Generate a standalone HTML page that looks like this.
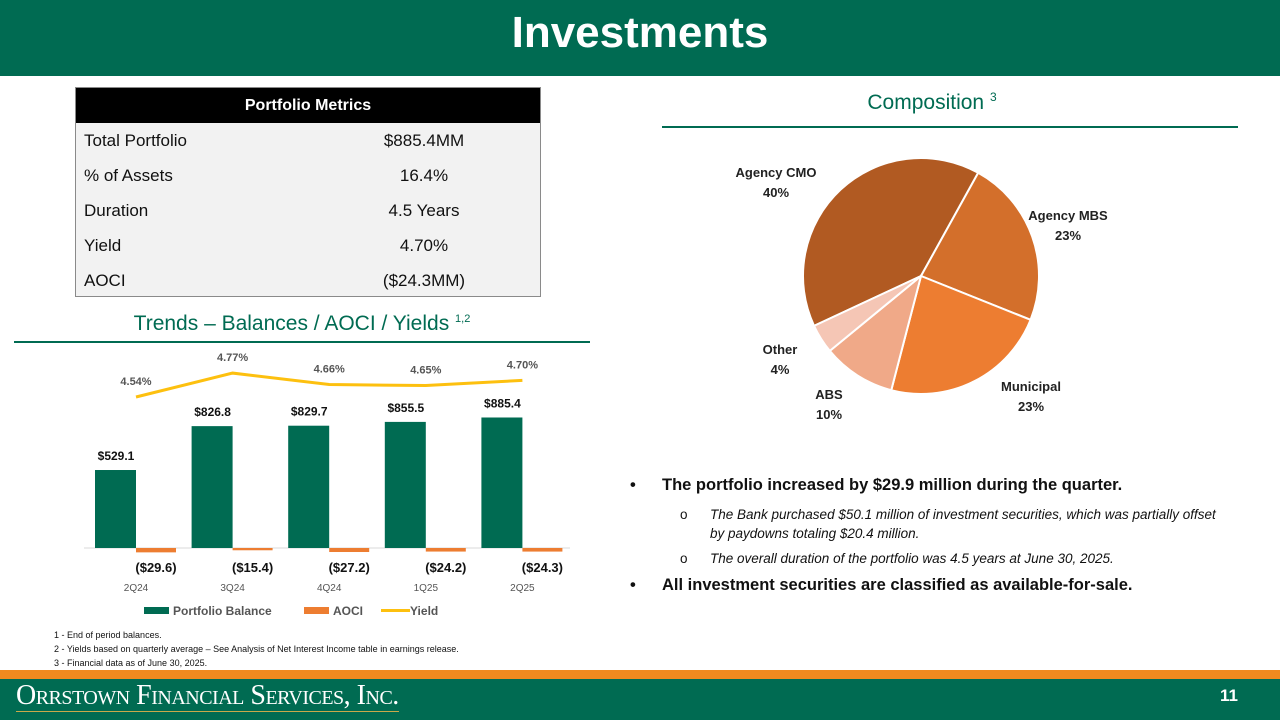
<!DOCTYPE html>
<html><head><meta charset="utf-8"><style>
body{margin:0;width:1280px;height:720px;position:relative;overflow:hidden;background:#fff;font-family:"Liberation Sans",sans-serif;}
.abs{position:absolute;}
table{border-collapse:collapse;}
</style></head><body>
<div class="abs" style="left:0;top:0;width:1280px;height:76px;background:#006b52;"></div>
<div class="abs" style="left:0;top:8px;width:1280px;text-align:center;color:#fff;font-weight:bold;font-size:44px;">Investments</div>

<div class="abs" style="left:75px;top:87px;width:466px;height:210px;background:#f2f2f2;border:1px solid #8a8a8a;box-sizing:border-box;">
<div style="height:35px;background:#000;color:#fff;font-weight:bold;font-size:16px;text-align:center;line-height:35px;">Portfolio Metrics</div>
<table style="width:100%;font-size:17px;color:#111;">
<tr style="height:35px"><td style="padding-left:8px">Total Portfolio</td><td style="text-align:center;width:50%">$885.4MM</td></tr>
<tr style="height:35px"><td style="padding-left:8px">% of Assets</td><td style="text-align:center">16.4%</td></tr>
<tr style="height:35px"><td style="padding-left:8px">Duration</td><td style="text-align:center">4.5 Years</td></tr>
<tr style="height:35px"><td style="padding-left:8px">Yield</td><td style="text-align:center">4.70%</td></tr>
<tr style="height:35px"><td style="padding-left:8px">AOCI</td><td style="text-align:center">($24.3MM)</td></tr>
</table></div>

<div class="abs" style="left:14px;top:312px;width:576px;text-align:center;color:#006b52;font-size:21px;">Trends – Balances / AOCI / Yields <sup style="font-size:11px">1,2</sup></div>
<div class="abs" style="left:14px;top:341px;width:576px;height:2px;background:#006b52;"></div>

<div class="abs" style="left:662px;top:90px;width:540px;text-align:center;color:#006b52;font-size:21px;">Composition <sup style="font-size:12px">3</sup></div>
<div class="abs" style="left:662px;top:126px;width:576px;height:2px;background:#006b52;"></div>

<svg class="abs" style="left:0;top:0" width="1280" height="720" id="chart"></svg>

<div class="abs" style="left:630px;top:476px;width:620px;color:#111;">
<div style="font-weight:bold;font-size:16.5px;"><span style="display:inline-block;width:32px">•</span>The portfolio increased by $29.9 million during the quarter.</div>
<div style="font-style:italic;font-size:13.5px;margin-top:10px;padding-left:80px;text-indent:-30px;line-height:19px;width:520px;"><span style="display:inline-block;width:30px;text-indent:0;font-style:normal">o</span>The Bank purchased $50.1 million of investment securities, which was partially offset by paydowns totaling $20.4 million.</div>
<div style="font-style:italic;font-size:13.5px;margin-top:8px;padding-left:50px;"><span style="display:inline-block;width:30px;font-style:normal">o</span>The overall duration of the portfolio was 4.5 years at June 30, 2025.</div>
<div style="font-weight:bold;font-size:16.5px;margin-top:10px;"><span style="display:inline-block;width:32px">•</span>All investment securities are classified as available-for-sale.</div>
</div>

<div class="abs" style="left:54px;top:628px;font-size:9px;color:#111;line-height:14px;">
<div>1 - End of period balances.</div>
<div>2 - Yields based on quarterly average – See Analysis of Net Interest Income table in earnings release.</div>
<div>3 - Financial data as of June 30, 2025.</div></div>

<div class="abs" style="left:0;top:670px;width:1280px;height:9px;background:#f08a1f;"></div>
<div class="abs" style="left:0;top:679px;width:1280px;height:41px;background:#006b52;"></div>
<div class="abs" style="left:16px;top:681px;color:#fff;font-family:'Liberation Serif',serif;font-size:28px;font-variant:small-caps;letter-spacing:-0.5px;border-bottom:1px solid #c9a94a;line-height:30px;">Orrstown Financial Services, Inc.</div>
<div class="abs" style="left:1220px;top:686px;color:#fff;font-weight:bold;font-size:17px;">11</div>

<script>
const categories=["2Q24","3Q24","4Q24","1Q25","2Q25"];
const balances=[529.1,826.8,829.7,855.5,885.4];
const aoci=[-29.6,-15.4,-27.2,-24.2,-24.3];
const yields=[4.54,4.77,4.66,4.65,4.70];
const balanceLabels=["$529.1","$826.8","$829.7","$855.5","$885.4"];
const aociLabels=["($29.6)","($15.4)","($27.2)","($24.2)","($24.3)"];
const yieldLabels=["4.54%","4.77%","4.66%","4.65%","4.70%"];
const pieLabels=["Agency CMO","Agency MBS","Municipal","ABS","Other"];
const pieValues=[40,23,23,10,4];

const NS="http://www.w3.org/2000/svg";
const svg=document.getElementById('chart');
function el(tag,attrs,txt){const e=document.createElementNS(NS,tag);for(const k in attrs)e.setAttribute(k,attrs[k]);if(txt!==undefined)e.textContent=txt;svg.appendChild(e);return e;}
const base=548;
const xc=i=>136+i*96.6;
const yb=v=>base-v*0.1474;
const yy=v=>397-(v-4.54)*104;
el('line',{x1:84,x2:570,y1:base,y2:base,stroke:'#d9d9d9','stroke-width':1});
categories.forEach((c,i)=>{
 const x=xc(i);
 let r=el('rect',{x:x-41,y:yb(balances[i]),width:41,height:base-yb(balances[i]),fill:'#006b52'});
 
 let a=el('rect',{x:x,y:base,width:40,height:yb(aoci[i])-base,fill:'#ed7d31'});
 
 let t=el('text',{x:x-20,y:yb(balances[i])-10,'text-anchor':'middle','font-size':12,'font-weight':'bold',fill:'#111'},balanceLabels[i]);
 
 t=el('text',{x:x+20,y:572,'text-anchor':'middle','font-size':13,'font-weight':'bold',fill:'#111'},aociLabels[i]);
 
 t=el('text',{x:x,y:591,'text-anchor':'middle','font-size':10,fill:'#555'},c);
 
 t=el('text',{x:x,y:yy(yields[i])-12,'text-anchor':'middle','font-size':11,'font-weight':'bold',fill:'#555'},yieldLabels[i]);
 
});
let yl=el('polyline',{points:yields.map((v,i)=>xc(i)+','+yy(v)).join(' '),fill:'none',stroke:'#fdc00f','stroke-width':3});

let lg=el('rect',{x:144,y:607,width:25,height:7,fill:'#006b52'});

el('text',{x:173,y:615,'font-size':12,'font-weight':'bold',fill:'#555'},'Portfolio Balance');
lg=el('rect',{x:304,y:607,width:25,height:7,fill:'#ed7d31'});

el('text',{x:333,y:615,'font-size':12,'font-weight':'bold',fill:'#555'},'AOCI');
lg=el('line',{x1:381,x2:410,y1:610.5,y2:610.5,stroke:'#fdc00f','stroke-width':3});

el('text',{x:410,y:615,'font-size':12,'font-weight':'bold',fill:'#555'},'Yield');
// pie
const pieColors=["#b15a22","#d36f2b","#ed7d31","#f0a988","#f5c6b5"];
const cx=921,cy=276,R=118;
const total=pieValues.reduce((a,b)=>a+b,0);
let ang=-115*Math.PI/180;
const labelPos=[[776,177],[1068,220],[1031,391],[829,399],[780,354]];
pieValues.forEach((v,i)=>{
 const a0=ang,a1=ang+v/total*2*Math.PI;ang=a1;
 const p=(a)=>[cx+R*Math.sin(a),cy-R*Math.cos(a)];
 const [x0,y0]=p(a0),[x1,y1]=p(a1);
 const large=(a1-a0)>Math.PI?1:0;
 let s=el('path',{d:`M${cx},${cy} L${x0},${y0} A${R},${R} 0 ${large} 1 ${x1},${y1} Z`,fill:pieColors[i],stroke:'#fff','stroke-width':2});
 
 
 const [lx,ly]=labelPos[i];
 let t=el('text',{x:lx,y:ly,'text-anchor':'middle','font-size':13,'font-weight':'bold',fill:'#222'},pieLabels[i]);
 
 t=el('text',{x:lx,y:ly+20,'text-anchor':'middle','font-size':13,'font-weight':'bold',fill:'#222'},v+'%');
 
});
</script>
</body></html>
